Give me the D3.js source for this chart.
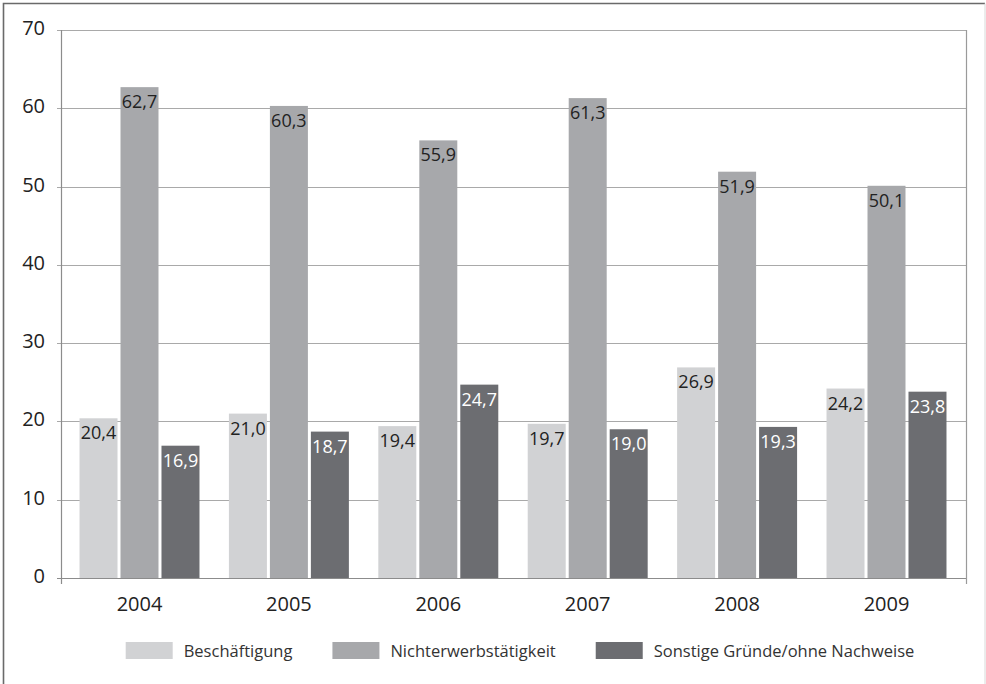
<!DOCTYPE html>
<html>
<head>
<meta charset="utf-8">
<script src="https://cdn.jsdelivr.net/npm/d3@7"></script>
<style>
  html, body { margin: 0; padding: 0; background: #fff; }
  svg { display: block; font-family: "Open Sans", sans-serif; }
</style>
</head>
<body>
<svg id="chart" width="986" height="684"></svg>
<script>
// Years shown on the category axis
const years = ["2004", "2005", "2006", "2007", "2008", "2009"];
// Series names (legend order)
const seriesNames = ["Beschäftigung", "Nichterwerbstätigkeit", "Sonstige Gründe/ohne Nachweise"];
// Values per series, one per year (percent)
const beschaeftigung = [20.4, 21.0, 19.4, 19.7, 26.9, 24.2];
const nichterwerb = [62.7, 60.3, 55.9, 61.3, 51.9, 50.1];
const sonstige = [16.9, 18.7, 24.7, 19.0, 19.3, 23.8];
// Y-axis ticks
const yTicks = [0, 10, 20, 30, 40, 50, 60, 70];

const seriesValues = [beschaeftigung, nichterwerb, sonstige];
const fills = ["#d1d2d4", "#a7a8ab", "#6c6d71"];
const labelColors = ["#222", "#222", "#ffffff"];

const svg = d3.select("#chart");

// Outer frame
svg.append("path")
  .attr("d", "M3.5,690 V3.5 H985")
  .attr("fill", "none").attr("stroke", "#6a6a6a").attr("stroke-width", 1.6);
svg.append("line")
  .attr("x1", 985).attr("x2", 985).attr("y1", 3.5).attr("y2", 690)
  .attr("stroke", "#d8d8d8").attr("stroke-width", 1);

const plotLeft = 61, plotRight = 967, plotTop = 30, plotBottom = 578;

const y = d3.scaleLinear().domain([0, 70]).range([plotBottom, plotTop]);
const x0 = d3.scaleBand().domain(years).range([64.8, 961.2])
  .paddingInner(0.197).paddingOuter(0.0985);
const x1 = d3.scaleBand().domain(d3.range(seriesNames.length))
  .range([0, x0.bandwidth()]).paddingInner(0.073);

// Gridlines with short tick marks on the left
svg.append("g").selectAll("line")
  .data(yTicks)
  .join("line")
  .attr("x1", plotLeft - 4).attr("x2", plotRight)
  .attr("y1", d => Math.round(y(d)) + 0.5).attr("y2", d => Math.round(y(d)) + 0.5)
  .attr("stroke", d => d === 0 ? "#8c8c8c" : "#a9a9a9")
  .attr("stroke-width", 1.2);

// Y tick labels
svg.append("g").selectAll("text")
  .data(yTicks)
  .join("text")
  .attr("x", 45)
  .attr("y", d => y(d) + 5)
  .attr("text-anchor", "end")
  .attr("font-size", 20)
  .attr("fill", "#222")
  .text(d => d);

// Plot side borders
svg.append("line")
  .attr("x1", plotLeft + 0.5).attr("x2", plotLeft + 0.5)
  .attr("y1", plotTop).attr("y2", plotBottom + 6)
  .attr("stroke", "#8c8c8c").attr("stroke-width", 1.2);
svg.append("line")
  .attr("x1", plotRight - 0.5).attr("x2", plotRight - 0.5)
  .attr("y1", plotTop).attr("y2", plotBottom + 6)
  .attr("stroke", "#9a9a9a").attr("stroke-width", 1.2);

// Bars
const groups = svg.append("g").selectAll("g")
  .data(years)
  .join("g")
  .attr("transform", d => `translate(${x0(d)},0)`);

const cells = groups.selectAll("g")
  .data((yr, i) => seriesValues.map((vals, s) => ({ s, v: vals[i] })))
  .join("g");

cells.append("rect")
  .attr("x", d => x1(d.s))
  .attr("width", x1.bandwidth())
  .attr("y", d => y(d.v))
  .attr("height", d => y(0) - y(d.v))
  .attr("fill", d => fills[d.s]);

// Value labels inside the top of each bar
cells.append("text")
  .attr("x", d => x1(d.s) + x1.bandwidth() / 2)
  .attr("y", d => y(d.v) + 21)
  .attr("text-anchor", "middle")
  .attr("font-size", 18)
  .attr("fill", d => labelColors[d.s])
  .text(d => d.v.toFixed(1).replace(".", ","));

// X-axis labels
svg.append("g").selectAll("text")
  .data(years)
  .join("text")
  .attr("x", d => x0(d) + x0.bandwidth() / 2)
  .attr("y", 611)
  .attr("text-anchor", "middle")
  .attr("font-size", 20)
  .attr("fill", "#222")
  .text(d => d);

// Legend, laid out from measured text widths and centred
const legend = svg.append("g");
const swW = 47, swH = 17, swGap = 11, itemGap = 40;
const items = legend.selectAll("g").data(seriesNames).join("g");
items.append("rect").attr("width", swW).attr("height", swH)
  .attr("y", 642).attr("fill", (d, i) => fills[i]);
items.append("text")
  .attr("x", swW + swGap).attr("y", 657)
  .attr("font-size", 16.5).attr("fill", "#333")
  .text(d => d);
let cursor = 0;
const offsets = [];
items.each(function () {
  const w = d3.select(this).select("text").node().getComputedTextLength();
  offsets.push(cursor);
  cursor += swW + swGap + w + itemGap;
});
const total = cursor - itemGap;
const startX = 520 - total / 2;
items.attr("transform", (d, i) => `translate(${startX + offsets[i]},0)`);
</script>
</body>
</html>
